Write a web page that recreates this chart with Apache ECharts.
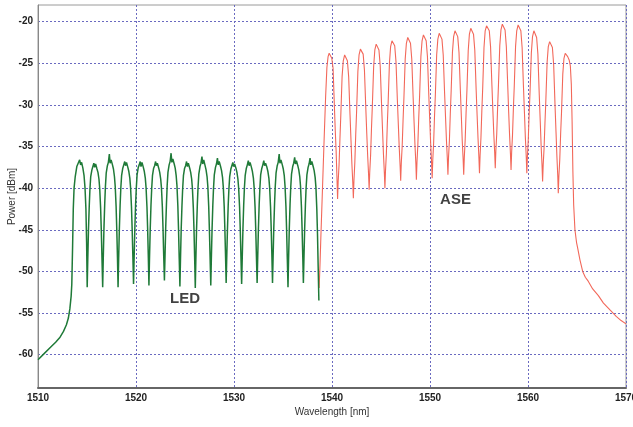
<!DOCTYPE html>
<html><head><meta charset="utf-8">
<script src="https://cdn.jsdelivr.net/npm/echarts@6/dist/echarts.min.js"></script>
<style>html,body{margin:0;padding:0;background:#fff}#c{width:633px;height:427px}</style>
</head><body><div id="c"></div>
<script>
// ---- axis values ----
const xMin = 1510, xMax = 1570, xStep = 10;
const yMin = -64, yMax = -18;
const yTickValues = [-60, -55, -50, -45, -40, -35, -30, -25, -20];

// ---- LED spectrum: rising edge + first channel ----
const ledEdge = [
[1510.0,-60.6],[1510.6,-59.9],[1511.2,-59.2],[1511.8,-58.5],[1512.25,-57.9],[1512.6,-57.2],[1512.9,-56.4],
[1513.1,-55.6],[1513.25,-54.5],[1513.38,-53.0],[1513.45,-51.5],[1513.53,-47.0],[1513.6,-42.5],[1513.68,-40.0],
[1513.8,-38.6],[1513.96,-37.4],[1514.1,-37.0],[1514.25,-36.6],[1514.35,-37.2],[1514.45,-36.9],[1514.58,-37.6],
[1514.7,-38.5],[1514.8,-40.0],[1514.89,-42.5],[1514.96,-46.5]
];
// ---- LED spectrum: comb ----
const ledComb = [
[1515.02,-51.9],
[1515.08,-48.5],[1515.15,-45.0],[1515.23,-42.1],[1515.30,-40.1],[1515.38,-38.6],[1515.50,-37.8],[1515.60,-37.4],[1515.70,-37.0],[1515.78,-37.5],[1515.88,-37.1],[1516.02,-37.7],[1516.12,-38.1],[1516.22,-38.9],[1516.30,-40.1],[1516.39,-42.4],[1516.46,-45.1],[1516.53,-48.5],
[1516.60,-51.9],
[1516.66,-48.4],[1516.73,-44.8],[1516.81,-41.8],[1516.88,-39.8],[1516.96,-38.2],[1517.08,-37.3],[1517.18,-36.9],[1517.28,-35.9],[1517.36,-37.0],[1517.46,-36.6],[1517.60,-37.2],[1517.70,-37.7],[1517.80,-38.6],[1517.88,-39.8],[1517.97,-42.2],[1518.04,-45.0],[1518.11,-48.4],
[1518.17,-51.9],
[1518.23,-48.5],[1518.30,-45.0],[1518.38,-42.0],[1518.45,-40.0],[1518.53,-38.5],[1518.65,-37.6],[1518.75,-37.2],[1518.85,-36.8],[1518.93,-37.3],[1519.03,-36.9],[1519.17,-37.5],[1519.27,-38.0],[1519.37,-38.8],[1519.45,-40.0],[1519.54,-42.3],[1519.61,-45.0],[1519.68,-48.2],
[1519.75,-51.5],
[1519.81,-48.3],[1519.88,-44.9],[1519.96,-41.9],[1520.03,-40.0],[1520.11,-38.4],[1520.23,-37.5],[1520.33,-37.2],[1520.43,-36.8],[1520.51,-37.4],[1520.61,-36.9],[1520.75,-37.5],[1520.85,-38.0],[1520.95,-38.8],[1521.03,-40.0],[1521.12,-42.3],[1521.19,-45.0],[1521.26,-48.4],
[1521.32,-51.7],
[1521.38,-48.3],[1521.45,-45.0],[1521.53,-42.0],[1521.60,-40.1],[1521.68,-38.5],[1521.80,-37.6],[1521.90,-37.3],[1522.00,-36.8],[1522.08,-37.3],[1522.18,-37.0],[1522.32,-37.6],[1522.42,-38.1],[1522.52,-38.9],[1522.60,-40.0],[1522.69,-42.3],[1522.76,-45.0],[1522.83,-48.2],
[1522.90,-51.1],
[1522.96,-48.2],[1523.03,-44.8],[1523.11,-41.8],[1523.18,-39.7],[1523.26,-38.1],[1523.38,-37.2],[1523.48,-36.8],[1523.58,-35.8],[1523.66,-36.9],[1523.76,-36.5],[1523.90,-37.1],[1524.00,-37.6],[1524.10,-38.5],[1524.18,-39.7],[1524.27,-42.1],[1524.34,-45.0],[1524.41,-48.4],
[1524.48,-51.8],
[1524.54,-48.5],[1524.61,-45.0],[1524.69,-42.1],[1524.76,-40.1],[1524.84,-38.5],[1524.96,-37.6],[1525.06,-37.3],[1525.16,-36.8],[1525.24,-37.4],[1525.34,-37.0],[1525.48,-37.6],[1525.58,-38.1],[1525.68,-38.9],[1525.76,-40.1],[1525.85,-42.4],[1525.92,-45.1],[1525.99,-48.6],
[1526.05,-52.0],
[1526.11,-48.4],[1526.18,-44.9],[1526.26,-41.9],[1526.33,-39.9],[1526.41,-38.3],[1526.53,-37.4],[1526.63,-37.0],[1526.73,-36.2],[1526.81,-37.1],[1526.91,-36.6],[1527.05,-37.3],[1527.15,-37.8],[1527.25,-38.6],[1527.33,-39.8],[1527.42,-42.2],[1527.49,-45.0],[1527.56,-48.3],
[1527.63,-51.7],
[1527.69,-48.4],[1527.76,-45.0],[1527.84,-42.0],[1527.91,-40.0],[1527.99,-38.4],[1528.11,-37.5],[1528.21,-37.1],[1528.31,-36.4],[1528.39,-37.2],[1528.49,-36.8],[1528.63,-37.4],[1528.73,-37.9],[1528.83,-38.7],[1528.91,-39.9],[1529.00,-42.2],[1529.07,-45.0],[1529.14,-48.3],
[1529.20,-51.4],
[1529.26,-48.3],[1529.33,-45.0],[1529.41,-42.0],[1529.48,-40.1],[1529.56,-38.6],[1529.68,-37.7],[1529.78,-37.3],[1529.88,-36.9],[1529.96,-37.4],[1530.06,-37.1],[1530.20,-37.6],[1530.30,-38.1],[1530.40,-38.9],[1530.48,-40.1],[1530.57,-42.3],[1530.64,-45.0],[1530.71,-48.3],
[1530.78,-51.5],
[1530.84,-48.4],[1530.91,-45.0],[1530.99,-42.0],[1531.06,-40.0],[1531.14,-38.5],[1531.26,-37.6],[1531.36,-37.2],[1531.46,-36.7],[1531.54,-37.3],[1531.64,-36.9],[1531.78,-37.5],[1531.88,-38.0],[1531.98,-38.8],[1532.06,-40.0],[1532.15,-42.3],[1532.22,-45.0],[1532.29,-48.3],
[1532.36,-51.4],
[1532.42,-48.3],[1532.49,-44.9],[1532.57,-41.9],[1532.64,-40.0],[1532.72,-38.4],[1532.84,-37.6],[1532.94,-37.2],[1533.04,-36.7],[1533.12,-37.3],[1533.22,-37.0],[1533.36,-37.5],[1533.46,-38.0],[1533.56,-38.8],[1533.64,-40.0],[1533.73,-42.3],[1533.80,-45.0],[1533.87,-48.3],
[1533.93,-51.4],
[1533.99,-48.3],[1534.06,-44.8],[1534.14,-41.8],[1534.21,-39.8],[1534.29,-38.2],[1534.41,-37.3],[1534.51,-36.9],[1534.61,-35.9],[1534.69,-37.0],[1534.79,-36.6],[1534.93,-37.2],[1535.03,-37.7],[1535.13,-38.5],[1535.21,-39.8],[1535.30,-42.2],[1535.37,-45.1],[1535.44,-48.5],
[1535.51,-51.9],
[1535.57,-48.5],[1535.64,-45.0],[1535.72,-41.9],[1535.79,-39.9],[1535.87,-38.3],[1535.99,-37.4],[1536.09,-37.0],[1536.19,-36.3],[1536.27,-37.1],[1536.37,-36.7],[1536.51,-37.3],[1536.61,-37.8],[1536.71,-38.6],[1536.79,-39.8],[1536.88,-42.2],[1536.95,-45.0],[1537.02,-48.3],
[1537.08,-51.4],
[1537.14,-48.3],[1537.21,-44.9],[1537.29,-41.9],[1537.36,-39.9],[1537.44,-38.4],[1537.56,-37.5],[1537.66,-37.1],[1537.76,-36.4],[1537.84,-37.2],[1537.94,-36.8],[1538.08,-37.4],[1538.18,-37.9],[1538.28,-38.7],[1538.36,-39.9],[1538.45,-42.5],[1538.52,-45.5],[1538.59,-49.5],
[1538.66,-53.5]
];

// ---- ASE spectrum: rising edge + first channel ----
const aseEdge = [
[1538.69,-52.0],[1538.78,-49.0],[1538.86,-46.0],[1539.03,-40.0],[1539.20,-34.0],[1539.35,-29.0],[1539.48,-25.5],
[1539.60,-24.2],[1539.71,-23.8],[1539.84,-23.9],[1539.98,-24.4],[1540.11,-25.6],[1540.24,-30.0],[1540.33,-33.0],
[1540.42,-35.5],[1540.50,-38.5]
];
// ---- ASE spectrum: comb ----
const aseComb = [
[1540.57,-41.3],
[1540.63,-39.2],[1540.72,-37.2],[1540.81,-34.1],[1540.90,-31.2],[1541.03,-26.6],[1541.15,-24.7],[1541.29,-24.0],[1541.43,-24.2],[1541.57,-24.7],[1541.70,-26.6],[1541.84,-31.2],[1541.94,-34.3],[1542.03,-37.1],[1542.12,-39.3],
[1542.18,-41.2],
[1542.24,-39.1],[1542.33,-36.9],[1542.42,-33.6],[1542.51,-30.8],[1542.64,-26.0],[1542.76,-24.0],[1542.90,-23.3],[1543.04,-23.5],[1543.18,-23.9],[1543.31,-25.8],[1543.45,-30.4],[1543.55,-33.5],[1543.64,-36.1],[1543.73,-38.3],
[1543.79,-40.2],
[1543.85,-38.1],[1543.94,-36.0],[1544.03,-32.8],[1544.12,-30.0],[1544.25,-25.4],[1544.37,-23.4],[1544.51,-22.7],[1544.65,-22.9],[1544.79,-23.4],[1544.92,-25.3],[1545.06,-30.0],[1545.16,-33.1],[1545.25,-35.9],[1545.34,-38.1],
[1545.40,-40.0],
[1545.46,-37.9],[1545.55,-35.8],[1545.64,-32.5],[1545.73,-29.7],[1545.86,-25.0],[1545.98,-23.0],[1546.12,-22.3],[1546.26,-22.5],[1546.40,-22.9],[1546.53,-24.8],[1546.67,-29.4],[1546.77,-32.4],[1546.86,-35.1],[1546.95,-37.3],
[1547.01,-39.1],
[1547.07,-37.0],[1547.16,-35.0],[1547.25,-31.9],[1547.34,-29.1],[1547.47,-24.5],[1547.59,-22.6],[1547.73,-21.9],[1547.87,-22.1],[1548.01,-22.6],[1548.14,-24.5],[1548.28,-29.1],[1548.38,-32.2],[1548.47,-34.9],[1548.56,-37.1],
[1548.61,-39.0],
[1548.67,-36.9],[1548.76,-34.8],[1548.85,-31.6],[1548.94,-28.9],[1549.07,-24.2],[1549.19,-22.3],[1549.33,-21.6],[1549.47,-21.8],[1549.61,-22.3],[1549.74,-24.2],[1549.88,-28.9],[1549.98,-32.0],[1550.07,-34.7],[1550.16,-36.9],
[1550.22,-38.8],
[1550.28,-36.7],[1550.37,-34.6],[1550.46,-31.4],[1550.55,-28.7],[1550.68,-24.0],[1550.80,-22.1],[1550.94,-21.4],[1551.08,-21.6],[1551.22,-22.1],[1551.35,-24.0],[1551.49,-28.6],[1551.59,-31.6],[1551.68,-34.3],[1551.77,-36.5],
[1551.83,-38.4],
[1551.89,-36.3],[1551.98,-34.3],[1552.07,-31.1],[1552.16,-28.3],[1552.29,-23.7],[1552.41,-21.8],[1552.55,-21.1],[1552.69,-21.3],[1552.83,-21.8],[1552.96,-23.7],[1553.10,-28.3],[1553.20,-31.4],[1553.29,-34.3],[1553.38,-36.5],
[1553.44,-38.4],
[1553.50,-36.3],[1553.59,-34.2],[1553.68,-31.0],[1553.77,-28.2],[1553.90,-23.5],[1554.02,-21.5],[1554.16,-20.8],[1554.30,-21.0],[1554.44,-21.5],[1554.57,-23.4],[1554.71,-28.2],[1554.81,-31.3],[1554.90,-34.0],[1554.99,-36.3],
[1555.05,-38.2],
[1555.11,-36.1],[1555.20,-33.9],[1555.29,-30.7],[1555.38,-27.9],[1555.51,-23.1],[1555.63,-21.1],[1555.77,-20.5],[1555.91,-20.6],[1556.05,-21.1],[1556.18,-23.0],[1556.32,-27.7],[1556.42,-30.8],[1556.51,-33.5],[1556.60,-35.7],
[1556.66,-37.6],
[1556.72,-35.5],[1556.81,-33.5],[1556.90,-30.3],[1556.99,-27.5],[1557.12,-22.9],[1557.24,-21.0],[1557.38,-20.3],[1557.52,-20.4],[1557.66,-21.0],[1557.79,-23.0],[1557.93,-27.6],[1558.03,-30.9],[1558.12,-33.6],[1558.21,-35.9],
[1558.27,-37.8],
[1558.33,-35.7],[1558.42,-33.6],[1558.51,-30.4],[1558.60,-27.7],[1558.73,-23.0],[1558.85,-21.1],[1558.99,-20.4],[1559.13,-20.6],[1559.27,-21.1],[1559.40,-23.1],[1559.54,-27.9],[1559.64,-31.0],[1559.73,-33.9],[1559.82,-36.2],
[1559.88,-38.2],
[1559.94,-36.2],[1560.03,-34.1],[1560.12,-31.0],[1560.21,-28.4],[1560.34,-23.8],[1560.46,-21.8],[1560.60,-21.1],[1560.74,-21.3],[1560.88,-21.9],[1561.01,-23.9],[1561.15,-28.8],[1561.25,-32.0],[1561.34,-34.9],[1561.43,-37.2],
[1561.49,-39.2],
[1561.55,-37.2],[1561.64,-35.2],[1561.73,-32.2],[1561.82,-29.5],[1561.95,-24.9],[1562.07,-23.0],[1562.21,-22.4],[1562.35,-22.6],[1562.49,-23.1],[1562.62,-25.2],[1562.76,-30.1],[1562.86,-33.3],[1562.95,-36.2],[1563.04,-38.6],
[1563.09,-40.6],
[1563.15,-38.6],[1563.24,-36.6],[1563.33,-33.5],[1563.42,-30.9],[1563.55,-26.3],[1563.67,-24.4],[1563.80,-23.8],[1563.92,-23.9],[1564.05,-24.2],[1564.20,-24.6],[1564.32,-25.3]
];
// ---- ASE spectrum: falling tail ----
const aseTail = [
[1564.42,-27.5],[1564.50,-32.0],[1564.58,-38.0],[1564.66,-42.0],[1564.79,-45.0],[1564.95,-46.5],[1565.07,-47.2],
[1565.30,-48.6],[1565.58,-50.0],[1565.85,-50.7],[1566.16,-51.2],[1566.60,-52.1],[1567.18,-52.9],[1567.70,-53.8],
[1568.34,-54.6],[1569.00,-55.4],[1569.50,-55.9],[1570.00,-56.3]
];

// ---- annotations ----
const labelNames = ['LED', 'ASE'];
const labelWavelength = [1525.0, 1552.6];
const labelPower = [-53.3, -41.4];

const ledData = ledEdge.concat(ledComb);
const aseData = aseEdge.concat(aseComb, aseTail);

const FONT = '"Liberation Sans", Arial, sans-serif';
const chart = echarts.init(document.getElementById('c'), null, {renderer: 'canvas'});
chart.setOption({
  animation: false,
  backgroundColor: '#ffffff',
  grid: {left: 38, right: 7, top: 5, bottom: 39, containLabel: false, outerBoundsMode: 'none',
         show: true, borderColor: '#9a9a9a', borderWidth: 1, backgroundColor: 'transparent'},
  xAxis: {
    type: 'value', min: xMin, max: xMax, interval: xStep,
    name: 'Wavelength [nm]', nameLocation: 'middle', nameGap: 19, nameMoveOverlap: false,
    nameTextStyle: {fontFamily: FONT, fontSize: 10, color: '#333'},
    axisLine: {show: true, lineStyle: {color: '#666', width: 2}},
    axisTick: {show: false},
    axisLabel: {fontFamily: FONT, fontSize: 10, fontWeight: 'bold', color: '#222', margin: 5,
                formatter: v => String(v)},
    splitLine: {show: true, lineStyle: {color: '#6a6ac0', type: [2, 2], width: 1}}
  },
  yAxis: {
    type: 'value', min: yMin, max: yMax,
    name: 'Power [dBm]', nameLocation: 'middle', nameGap: 21, nameMoveOverlap: false,
    nameTextStyle: {fontFamily: FONT, fontSize: 10, color: '#333'},
    axisLine: {show: true, lineStyle: {color: '#888', width: 1}},
    axisTick: {show: false, customValues: yTickValues},
    axisLabel: {fontFamily: FONT, fontSize: 10, fontWeight: 'bold', color: '#222', margin: 5, customValues: yTickValues,
                formatter: v => String(v)},
    splitLine: {show: true, lineStyle: {color: '#6a6ac0', type: [2, 2], width: 1}}
  },
  series: [
    {name: 'ASE', type: 'line', data: aseData, showSymbol: false, symbol: 'none', smooth: false,
     lineStyle: {color: '#f2685a', width: 1.1}, z: 3},
    {name: 'LED', type: 'line', data: ledData, showSymbol: false, symbol: 'none', smooth: false,
     lineStyle: {color: '#1f7a38', width: 1.5}, z: 4},
    {name: 'labels', type: 'scatter', symbolSize: 0, z: 5,
     data: labelNames.map((n, i) => ({name: n, value: [labelWavelength[i], labelPower[i]]})),
     label: {show: true, position: 'inside', formatter: p => p.name, fontFamily: FONT, fontSize: 15, fontWeight: 'bold', color: '#111'}}
  ]
});
</script></body></html>
